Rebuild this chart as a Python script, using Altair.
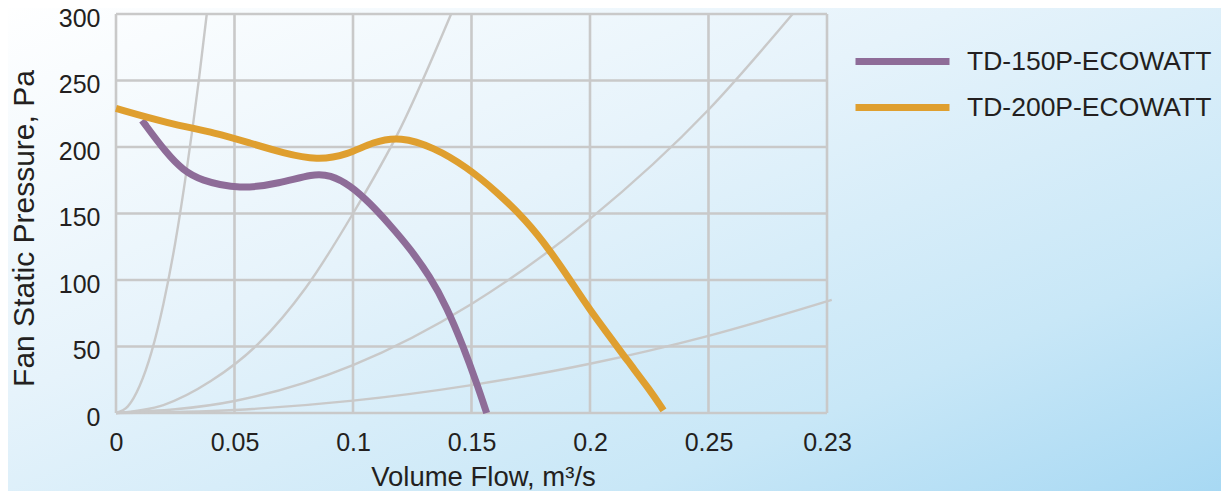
import altair as alt
import pandas as pd

# ---- data ----
series_names = ["TD-150P-ECOWATT", "TD-200P-ECOWATT"]
series_colors = ["#8e6c98", "#df9f2f"]

q_150 = [0.011, 0.0214, 0.0283, 0.0354, 0.0523, 0.069, 0.0833, 0.0903, 0.0987, 0.1072,
         0.1156, 0.124, 0.1325, 0.1395, 0.1466, 0.1522, 0.1564]
p_150 = [220, 195, 182.7, 175, 168, 172.7, 180, 179, 171.4, 157.7,
         141.4, 123.8, 102.5, 79.9, 49.8, 22.3, 0]

q_200 = [0.0, 0.0215, 0.0426, 0.0565, 0.0705, 0.085, 0.0975, 0.1085, 0.12, 0.1338,
         0.148, 0.1606, 0.173, 0.183, 0.1916, 0.2, 0.2084, 0.2155, 0.2253, 0.231]
p_200 = [229, 218, 210.5, 203, 195.5, 190, 194, 204, 207.8, 200,
         185, 166.4, 145, 122.5, 100, 77.4, 57.4, 40, 17.3, 2]

# system resistance curves (grey)
sys_a_q = [0, 0.005, 0.01, 0.015, 0.02, 0.025, 0.03, 0.035, 0.0383]
sys_a_p = [0, 5, 20.5, 46, 82, 128, 185, 251, 300]
sys_b_q = [0, 0.02, 0.04, 0.06, 0.08, 0.1, 0.12, 0.1414]
sys_b_p = [0, 6, 24, 52, 94, 150, 214, 300]
sys_c_q = [0, 0.05, 0.1, 0.15, 0.2, 0.25, 0.2855]
sys_c_p = [0, 9, 36, 82, 146, 228, 300]
sys_d_q = [0, 0.05, 0.1, 0.15, 0.2, 0.25, 0.302]
sys_d_p = [0, 2.3, 9.3, 21, 37, 58, 85]

x_ticks = [0, 0.05, 0.1, 0.15, 0.2, 0.25, 0.3]
x_tick_labels = ["0", "0.05", "0.1", "0.15", "0.2", "0.25", "0.23"]
y_ticks = [0, 50, 100, 150, 200, 250, 300]

# ---- tables ----
series_df = pd.concat([
    pd.DataFrame({"q": q_150, "p": p_150, "series": series_names[0], "o": range(len(q_150))}),
    pd.DataFrame({"q": q_200, "p": p_200, "series": series_names[1], "o": range(len(q_200))}),
])
sys_df = pd.concat([
    pd.DataFrame({"q": q, "p": p, "curve": name, "o": range(len(q))})
    for name, q, p in [("a", sys_a_q, sys_a_p), ("b", sys_b_q, sys_b_p),
                       ("c", sys_c_q, sys_c_p), ("d", sys_d_q, sys_d_p)]
])
xgrid_df = pd.DataFrame({"q": x_ticks})
ygrid_df = pd.DataFrame({"p": y_ticks})
bg_df = pd.DataFrame({"a": [0]})

W, H = 711, 399
PAD = {"left": 108, "top": 6, "right": 394, "bottom": 78}
FONT = "Liberation Sans"
TXT = "#231f20"
GRID = "#c9c9c9"

label_expr = ""
for v, lab in zip(x_ticks[:-1], x_tick_labels[:-1]):
    label_expr += f"datum.value < {v + 0.025} ? '{lab}' : "
label_expr += f"'{x_tick_labels[-1]}'"

xscale = alt.Scale(domain=[0, 0.3], nice=False, zero=True)
yscale = alt.Scale(domain=[0, 300], nice=False)

x_axis = alt.Axis(values=x_ticks, labelExpr=label_expr, grid=False, domain=False, ticks=False,
                  labelFlush=False, labelOverlap=False,
                  labelFont=FONT, labelFontSize=25, labelColor=TXT, labelPadding=17,
                  title="Volume Flow, m³/s", titleFont=FONT, titleFontSize=27.5,
                  titleFontWeight="normal", titleColor=TXT, titlePadding=8, titleX=367,
                  zindex=2)
y_axis = alt.Axis(values=y_ticks, grid=False, domain=False, ticks=False,
                  labelOverlap=False, labelOffset=4,
                  labelFont=FONT, labelFontSize=25, labelColor=TXT, labelPadding=16,
                  title="Fan Static Pressure, Pa", titleFont=FONT, titleFontSize=30,
                  titleFontWeight="normal", titleColor=TXT, titlePadding=19, titleY=214,
                  zindex=2)

gradient = alt.LinearGradient(
    gradient="linear", x1=0, y1=0, x2=1, y2=1,
    stops=[alt.GradientStop(offset=0, color="#ffffff"),
           alt.GradientStop(offset=0.4, color="#e6f3fb"),
           alt.GradientStop(offset=0.75, color="#c8e7f7"),
           alt.GradientStop(offset=1, color="#a6d8f3")])

bg = alt.Chart(bg_df).mark_rect(fill=gradient, clip=False).encode(
    x=alt.value(-PAD["left"] - 8), x2=alt.value(W + PAD["right"] + 8),
    y=alt.value(-PAD["top"] - 8), y2=alt.value(H + PAD["bottom"] + 8))

xgrid = alt.Chart(xgrid_df).mark_rule(color=GRID, strokeWidth=2.6).encode(
    x=alt.X("q:Q", scale=xscale, axis=x_axis))
ygrid = alt.Chart(ygrid_df).mark_rule(color=GRID, strokeWidth=2.6).encode(
    y=alt.Y("p:Q", scale=yscale, axis=y_axis))

sys_lines = alt.Chart(sys_df).mark_line(color=GRID, strokeWidth=2.4, interpolate="monotone").encode(
    x=alt.X("q:Q", scale=xscale), y=alt.Y("p:Q", scale=yscale),
    detail="curve:N", order="o:Q")

lines = alt.Chart(series_df).mark_line(strokeWidth=7, interpolate="basis", strokeCap="butt").encode(
    x=alt.X("q:Q", scale=xscale), y=alt.Y("p:Q", scale=yscale),
    order="o:Q",
    color=alt.Color("series:N", scale=alt.Scale(domain=series_names, range=series_colors),
                    legend=alt.Legend(title=None, orient="none", legendX=771, legendY=32,
                                      symbolType="M-4,0H4", symbolSize=552, symbolStrokeWidth=7,
                                      labelFont=FONT, labelFontSize=26.5, labelColor=TXT,
                                      labelOffset=49, labelLimit=500, rowPadding=16, padding=0,
                                      zindex=2)))

chart = alt.layer(bg, xgrid, ygrid, sys_lines, lines).properties(
    width=W, height=H, padding=PAD, autosize=alt.AutoSizeParams(type="none"),
    background="#ffffff"
).configure_view(stroke="transparent")

chart.save("out.html", embed_options={"renderer": "svg", "actions": False})
